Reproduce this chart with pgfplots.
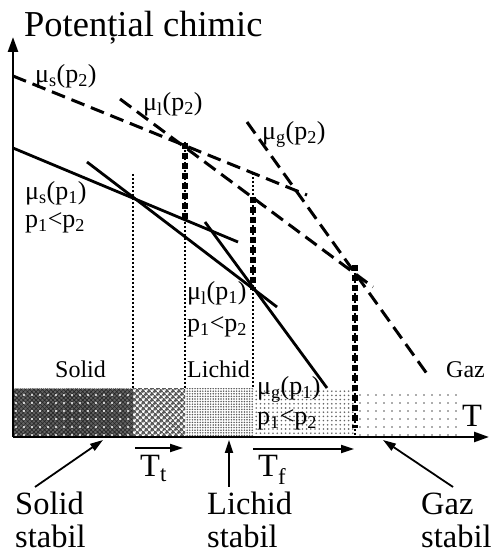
\documentclass[border=0pt]{standalone}
\usepackage{pgfplots}
\pgfplotsset{compat=1.18}
\usepackage{fontspec}
\setmainfont{Liberation Serif}
\usetikzlibrary{arrows.meta,patterns.meta}

\newcommand\TitleF{\fontsize{36.5}{41}\selectfont}
\newcommand\BigF{\fontsize{32.5}{37}\selectfont}
\newcommand\MidF{\fontsize{26}{30}\selectfont}
\newcommand\SmF{\fontsize{24}{28}\selectfont}

\tikzset{
  dashedcurve/.style={line width=3pt, dash pattern=on 14pt off 7pt},
  solidcurve/.style={line width=2.8pt},
  thinsep/.style={line width=1.8pt, dash pattern=on 1.8pt off 2.2pt},
  thicksep/.style={line width=6.5pt, dash pattern=on 6.5pt off 3.5pt},
  ptr/.style={line width=1.8pt, -{Triangle[length=13pt,width=8pt]}},
}

\begin{document}
\begin{tikzpicture}
\begin{axis}[
  width=493pt, height=555pt, scale only axis,
  xmin=0, xmax=493, ymin=0, ymax=555,
  hide axis, clip=false,
]
% frame of the drawing area
\addplot[draw=none] coordinates {(0,0) (493,555)};

% stability bands along the T axis
\addplot[draw=none, fill=black!62] coordinates {(13,118) (133,118) (133,166) (13,166)};
\addplot[draw=none, pattern={Hatch[distance=3pt,angle=45,line width=0.6pt]}, pattern color=black!85]
  coordinates {(13,118) (133,118) (133,166) (13,166)};
\addplot[draw=none, pattern={Dots[distance=8pt,radius=1.1pt]}, pattern color=white]
  coordinates {(13,118) (133,118) (133,166) (13,166)};
\addplot[draw=none, pattern={Hatch[distance=4pt,angle=45,line width=1.8pt]}, pattern color=black!65]
  coordinates {(133,118) (185,118) (185,166) (133,166)};
\addplot[draw=none, pattern={Dots[distance=2.6pt,radius=0.85pt]}, pattern color=black!65]
  coordinates {(185,118) (253,118) (253,166) (185,166)};
\addplot[draw=none, pattern={Dots[distance=4.2pt,radius=0.9pt]}, pattern color=black!60]
  coordinates {(253,118) (355,118) (355,166) (253,166)};
\addplot[draw=none, pattern={Dots[distance=8pt,radius=0.9pt]}, pattern color=black!65]
  coordinates {(355,118) (460,118) (460,166) (355,166)};

% phase boundaries
\addplot[thinsep] coordinates {(133,381) (133,166)};
\addplot[thinsep] coordinates {(185,413) (185,166)};
\addplot[thinsep] coordinates {(253,382) (253,166)};
\addplot[thinsep] coordinates {(355,290) (355,118)};
\addplot[thicksep] coordinates {(185,412) (185,334)};
\addplot[thicksep] coordinates {(253,358) (253,265)};
\addplot[thicksep] coordinates {(355,290) (355,127)};

% chemical potential at p2 (dashed)
\addplot[dashedcurve] coordinates {(13,479) (307,360)};
\addplot[dashedcurve] coordinates {(120,456) (373,268)};
\addplot[dashedcurve] coordinates {(247,433) (430,177)};

% chemical potential at p1 (solid)
\addplot[solidcurve] coordinates {(13,407) (238,313)};
\addplot[solidcurve] coordinates {(87,393) (277,248)};
\addplot[solidcurve] coordinates {(205,333) (327,167)};

% axes
\addplot[line width=2.5pt, -{Triangle[length=15pt,width=10pt]}] coordinates {(13,118) (13,518)};
\addplot[line width=2.5pt, -{Triangle[length=15pt,width=10pt]}] coordinates {(13,118) (489,118)};

% pointers
\addplot[ptr] coordinates {(35,68) (103,115)};
\addplot[ptr] coordinates {(135,107) (183,107)};
\addplot[ptr] coordinates {(229,68) (229,115)};
\addplot[ptr] coordinates {(253,106) (354,106)};
\addplot[ptr] coordinates {(453,68) (383,115)};

% labels
\node[anchor=base west, inner sep=0] at (axis cs:24,518) {\TitleF Potențial chimic};
\node[anchor=base west, inner sep=0] at (axis cs:35,472) {\MidF μ\textsubscript{s}(p\textsubscript{2})};
\node[anchor=base west, inner sep=0] at (axis cs:143,444) {\MidF μ\textsubscript{l}(p\textsubscript{2})};
\node[anchor=base west, inner sep=0] at (axis cs:262,415) {\MidF μ\textsubscript{g}(p\textsubscript{2})};
\node[anchor=base west, inner sep=0] at (axis cs:25,355) {\MidF μ\textsubscript{s}(p\textsubscript{1})};
\node[anchor=base west, inner sep=0] at (axis cs:25,327) {\MidF p\textsubscript{1}<p\textsubscript{2}};
\node[anchor=base west, inner sep=0] at (axis cs:187,255) {\MidF μ\textsubscript{l}(p\textsubscript{1})};
\node[anchor=base west, inner sep=0] at (axis cs:187,223) {\MidF p\textsubscript{1}<p\textsubscript{2}};
\node[anchor=base west, inner sep=0] at (axis cs:257,160) {\MidF μ\textsubscript{g}(p\textsubscript{1})};
\node[anchor=base west, inner sep=0] at (axis cs:257,130) {\MidF p\textsubscript{1}<p\textsubscript{2}};
\node[anchor=base west, inner sep=0] at (axis cs:55,177) {\SmF Solid};
\node[anchor=base west, inner sep=0] at (axis cs:187,177) {\SmF Lichid};
\node[anchor=base west, inner sep=0] at (axis cs:446,177) {\SmF Gaz};
\node[anchor=base west, inner sep=0] at (axis cs:462,128) {\BigF T};
\node[anchor=base west, inner sep=0] at (axis cs:140,78) {\BigF T\textsubscript{t}};
\node[anchor=base west, inner sep=0] at (axis cs:258,78) {\BigF T\textsubscript{f}};
\node[anchor=base west, inner sep=0] at (axis cs:15,40) {\BigF Solid};
\node[anchor=base west, inner sep=0] at (axis cs:15,7) {\BigF stabil};
\node[anchor=base west, inner sep=0] at (axis cs:207,40) {\BigF Lichid};
\node[anchor=base west, inner sep=0] at (axis cs:207,7) {\BigF stabil};
\node[anchor=base west, inner sep=0] at (axis cs:421,40) {\BigF Gaz};
\node[anchor=base west, inner sep=0] at (axis cs:421,7) {\BigF stabil};
\end{axis}
\end{tikzpicture}
\end{document}
